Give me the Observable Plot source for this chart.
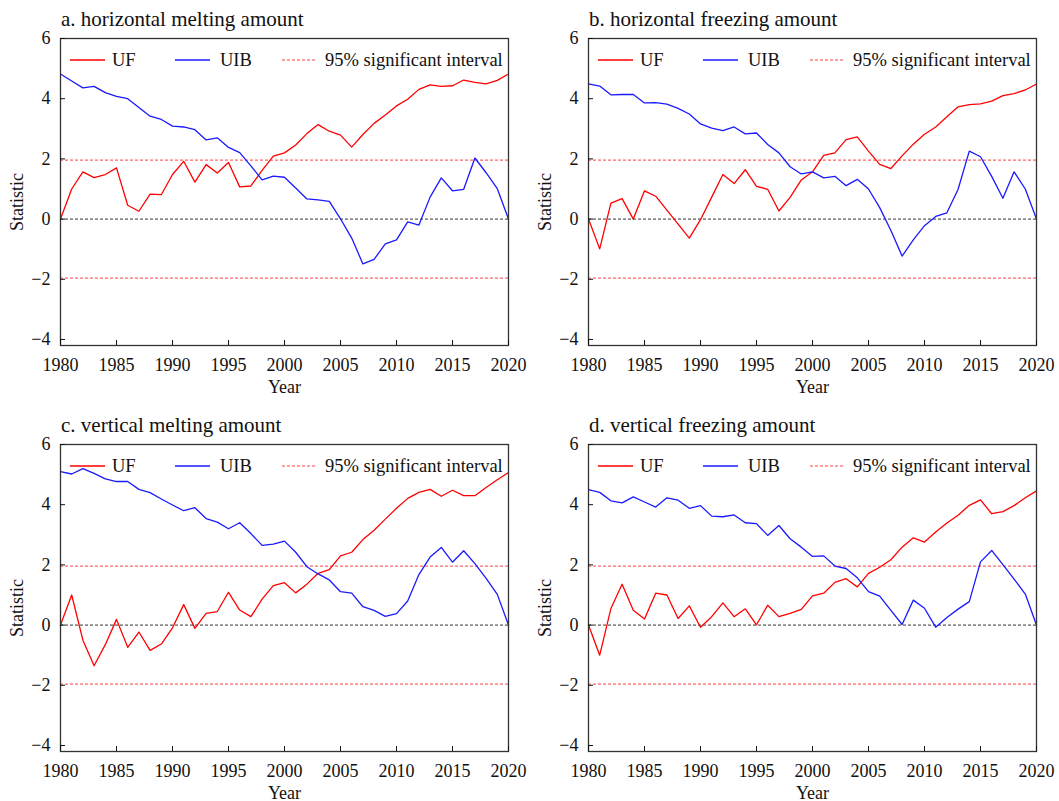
<!DOCTYPE html>
<html>
<head>
<meta charset="utf-8">
<script src="https://cdn.jsdelivr.net/npm/d3@7"></script>
<script src="https://cdn.jsdelivr.net/npm/@observablehq/plot@0.6"></script>
<style>
  html, body { margin: 0; padding: 0; background: #fff; }
  body { width: 1059px; height: 801px; position: relative; overflow: hidden;
         font-family: "Liberation Serif", "Times New Roman", serif; color: #111; }
  .abs { position: absolute; }
  .title { font-size: 21px; line-height: 21px; white-space: nowrap; }
  .ylab { font-size: 18px; white-space: nowrap; transform: translate(-50%, -50%) rotate(-90deg); }
</style>
</head>
<body>
<script>
// ---- data ----
const years = [1980,1981,1982,1983,1984,1985,1986,1987,1988,1989,
               1990,1991,1992,1993,1994,1995,1996,1997,1998,1999,
               2000,2001,2002,2003,2004,2005,2006,2007,2008,2009,
               2010,2011,2012,2013,2014,2015,2016,2017,2018,2019,2020];
const xTicks = [1980, 1985, 1990, 1995, 2000, 2005, 2010, 2015, 2020];
const yTicks = [-4, -2, 0, 2, 4, 6];
const sigLevels = [1.96, -1.96];
const titles = ["a. horizontal melting amount", "b. horizontal freezing amount",
                "c. vertical melting amount", "d. vertical freezing amount"];
const seriesNames = ["UF", "UIB", "95% significant interval"];

const aUF  = [0,1.0,1.57,1.38,1.48,1.70,0.46,0.26,0.83,0.81, 1.48,1.92,1.23,1.81,1.53,1.88,1.07,1.10,1.62,2.09,
              2.2,2.46,2.84,3.14,2.92,2.79,2.39,2.81,3.18,3.46, 3.76,3.98,4.31,4.46,4.41,4.43,4.62,4.54,4.49,4.61, 4.82];
const aUIB = [4.82,4.59,4.36,4.41,4.2,4.08,4.0,3.71,3.42,3.31, 3.09,3.06,2.97,2.63,2.7,2.38,2.21,1.77,1.3,1.43,
              1.39,1.03,0.67,0.64,0.59,0.01,-0.63,-1.49,-1.34,-0.82, -0.69,-0.09,-0.2,0.73,1.37,0.94,0.99,2.03,1.54,1.01, 0];
const bUF  = [0,-0.99,0.53,0.68,0,0.94,0.76,0.3,-0.17,-0.63, -0.02,0.73,1.48,1.18,1.64,1.09,0.99,0.27,0.72,1.3,
              1.57,2.12,2.2,2.64,2.73,2.26,1.82,1.68,2.1,2.49, 2.82,3.06,3.4,3.73,3.8,3.83,3.92,4.1,4.17,4.29, 4.49];
const bUIB = [4.49,4.42,4.13,4.14,4.14,3.86,3.87,3.82,3.68,3.49, 3.16,3.02,2.94,3.06,2.83,2.86,2.48,2.2,1.74,1.5,
              1.57,1.37,1.42,1.11,1.32,1.0,0.38,-0.38,-1.23,-0.69, -0.22,0.09,0.21,0.99,2.26,2.07,1.42,0.69,1.57,1.0, 0];
const cUF  = [0,1.0,-0.5,-1.35,-0.65,0.19,-0.74,-0.23,-0.84,-0.63, -0.09,0.68,-0.11,0.39,0.45,1.09,0.5,0.28,0.86,1.31,
              1.41,1.07,1.36,1.72,1.84,2.3,2.42,2.84,3.15,3.52, 3.88,4.21,4.41,4.51,4.28,4.48,4.3,4.3,4.57,4.83, 5.07];
const cUIB = [5.1,5.02,5.2,5.04,4.86,4.77,4.77,4.51,4.4,4.19, 3.99,3.8,3.9,3.54,3.42,3.2,3.4,3.04,2.65,2.69,
              2.79,2.42,1.94,1.7,1.5,1.11,1.06,0.61,0.49,0.29, 0.38,0.8,1.68,2.26,2.58,2.09,2.47,2.04,1.55,1.02, 0];
const dUF  = [0,-1.0,0.55,1.36,0.49,0.2,1.06,1.0,0.22,0.64, -0.07,0.28,0.74,0.28,0.54,0.01,0.66,0.28,0.39,0.52,
              0.97,1.06,1.42,1.54,1.27,1.72,1.92,2.17,2.59,2.9, 2.76,3.09,3.39,3.65,3.98,4.16,3.7,3.77,3.97,4.23, 4.46];
const dUIB = [4.5,4.41,4.13,4.06,4.26,4.09,3.92,4.23,4.15,3.88, 3.97,3.62,3.6,3.66,3.4,3.37,2.98,3.31,2.87,2.59,
              2.28,2.3,1.96,1.88,1.57,1.11,0.96,0.49,0.02,0.83, 0.56,-0.07,0.25,0.53,0.78,2.1,2.48,2.01,1.53,1.03, 0];

// ---- layout ----
const FONT = "'Liberation Serif', 'Times New Roman', serif";
const W = 530, H = 398, ML = 60, MR = 22, MT = 38, MB = 53;
const UF_COLOR = "#ff0000", UIB_COLOR = "#1a1aff", SIG_COLOR = "#ff4040";

const panels = [
  {title: titles[0], uf: aUF, uib: aUIB, left: 0,   top: 0},
  {title: titles[1], uf: bUF, uib: bUIB, left: 528, top: 0},
  {title: titles[2], uf: cUF, uib: cUIB, left: 0,   top: 406},
  {title: titles[3], uf: dUF, uib: dUIB, left: 528, top: 406}
];

const minusFmt = d => d < 0 ? "\u2212" + Math.abs(d) : String(d);

for (const p of panels) {
  const chart = Plot.plot({
    width: W, height: H,
    marginLeft: ML, marginRight: MR, marginTop: MT, marginBottom: MB,
    style: {fontFamily: FONT, fontSize: "18px", color: "#111", background: "transparent", overflow: "visible"},
    x: {domain: [1980, 2020]},
    y: {domain: [-4.2, 6]},
    marks: [
      Plot.ruleY(sigLevels, {stroke: SIG_COLOR, strokeWidth: 1, strokeDasharray: "3,2"}),
      Plot.ruleY([0], {stroke: "#333", strokeWidth: 1, strokeDasharray: "3,2"}),
      Plot.line(years, {x: d => d, y: (d, i) => p.uf[i], stroke: UF_COLOR, strokeWidth: 1.3}),
      Plot.line(years, {x: d => d, y: (d, i) => p.uib[i], stroke: UIB_COLOR, strokeWidth: 1.3}),
      Plot.frame({stroke: "#333", strokeWidth: 1.3}),
      Plot.axisX({ticks: xTicks, tickSize: -5, tickPadding: 18, tickFormat: d => String(d),
                  label: "Year", labelAnchor: "center", labelOffset: 47, labelArrow: "none"}),
      Plot.axisY({ticks: yTicks, tickSize: -5, tickPadding: 15, tickFormat: minusFmt, label: null})
    ]
  });
  chart.classList.add("abs");
  chart.style.left = p.left + "px";
  chart.style.top = p.top + "px";
  document.body.appendChild(chart);

  // title
  const t = document.createElement("div");
  t.className = "abs title";
  t.textContent = p.title;
  t.style.left = (p.left + ML + 1) + "px";
  t.style.top = (p.top + MT - 29) + "px";
  document.body.appendChild(t);

  // y label
  const yl = document.createElement("div");
  yl.className = "abs ylab";
  yl.textContent = "Statistic";
  yl.style.left = (p.left + ML - 43) + "px";
  yl.style.top = (p.top + MT + (H - MT - MB) / 2 + 10) + "px";
  document.body.appendChild(yl);

  // legend (inside plot, top)
  const lg = d3.create("svg")
    .attr("width", 300).attr("height", 44)
    .style("position", "absolute")
    .style("left", (p.left + ML) + "px")
    .style("top", (p.top + MT) + "px")
    .style("overflow", "visible");
  const items = [
    {name: seriesNames[0], color: UF_COLOR, x0: 10, tx: 52, dash: null, w: 1.3},
    {name: seriesNames[1], color: UIB_COLOR, x0: 115, tx: 160, dash: null, w: 1.3},
    {name: seriesNames[2], color: SIG_COLOR, x0: 222, tx: 265, dash: "3,2", w: 1}
  ];
  for (const it of items) {
    lg.append("line").attr("x1", it.x0).attr("x2", it.x0 + 35).attr("y1", 22).attr("y2", 22)
      .attr("stroke", it.color).attr("stroke-width", it.w).attr("stroke-dasharray", it.dash);
    lg.append("text").attr("x", it.tx).attr("y", 22).attr("dy", "0.35em")
      .attr("font-family", FONT).attr("font-size", "18.5px").attr("fill", "#111").text(it.name);
  }
  document.body.appendChild(lg.node());
}
</script>
</body>
</html>
